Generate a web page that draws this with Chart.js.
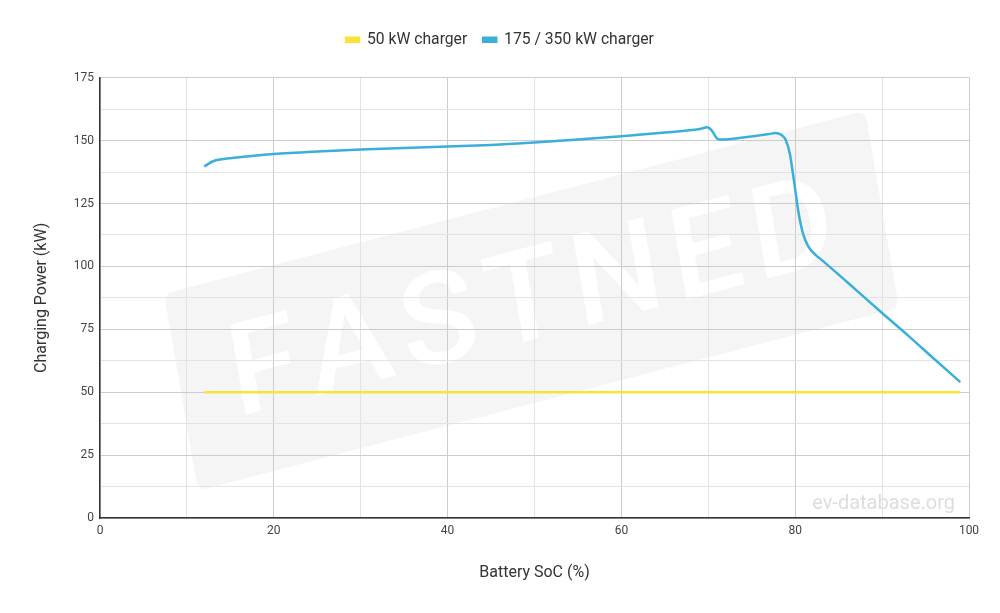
<!DOCTYPE html>
<html>
<head>
<meta charset="utf-8">
<script src="https://cdn.jsdelivr.net/npm/chart.js@4/dist/chart.umd.min.js"></script>
<style>
html,body{margin:0;padding:0;background:#fff;}
#wrap{width:1000px;height:613px;position:relative;}
</style>
</head>
<body>
<div id="wrap"><canvas id="c" width="1000" height="613"></canvas></div>
<script>
// ---- data ----
const seriesNames = ["50 kW charger", "175 / 350 kW charger"];
const soc50 = [12, 99];
const power50 = [50, 50];
const socFast = [12, 13, 14, 16, 18, 20, 25, 30, 35, 40, 45, 50, 55, 60, 65, 69, 69.9, 70.4, 71.1, 71.6, 74, 77, 77.7, 78.4, 78.9, 79.4, 79.9, 80.4, 80.9, 81.5, 82.4, 83, 86, 90, 93, 96, 99];
const powerFast = [139.7, 141.8, 142.6, 143.4, 144.1, 144.7, 145.7, 146.5, 147.1, 147.7, 148.3, 149.2, 150.4, 151.7, 153.2, 154.6, 155.3, 154.0, 150.6, 150.4, 151.2, 152.6, 153.0, 152.3, 150.3, 144.5, 133, 121, 113, 108, 104.4, 102.7, 93.7, 81.5, 72.5, 63.2, 54];
const xTitle = "Battery SoC (%)";
const yTitle = "Charging Power (kW)";
const watermarkText = "FASTNED";
const creditText = "ev-database.org";

const pts = (xs, ys) => xs.map((x, i) => ({x: x, y: ys[i]}));

const FONT = "Roboto, 'Noto Sans', sans-serif";

const legendSpace = {
  id: 'legendSpace',
  afterInit(chart) {
    const lg = chart.legend;
    if (lg && !lg._patched) {
      const orig = lg.fit;
      lg.fit = function () { orig.call(this); this.height += 20; };
      lg._patched = true;
    }
  }
};

const watermark = {
  id: 'watermark',
  beforeDraw(chart) {
    const ctx = chart.ctx;
    const ca = chart.chartArea;
    ctx.save();
    const ox = ca.left + 64, oy = ca.top + 216;
    const W = 724, H = 200;
    ctx.transform(701 / W, -183 / W, 34 / H, 197 / H, ox, oy);
    const r = 10;
    ctx.beginPath();
    ctx.moveTo(r, 0); ctx.lineTo(W - r, 0); ctx.quadraticCurveTo(W, 0, W, r);
    ctx.lineTo(W, H - r); ctx.quadraticCurveTo(W, H, W - r, H);
    ctx.lineTo(r, H); ctx.quadraticCurveTo(0, H, 0, H - r);
    ctx.lineTo(0, r); ctx.quadraticCurveTo(0, 0, r, 0);
    ctx.closePath();
    ctx.fillStyle = '#f5f5f5';
    ctx.fill();
    ctx.fillStyle = '#ffffff';
    ctx.font = "500 128px " + FONT;
    ctx.textBaseline = 'middle';
    const letters = watermarkText.split('');
    const widths = letters.map(l => ctx.measureText(l).width);
    const total = 622;
    const sumW = widths.reduce((a, b) => a + b, 0);
    const gap = (total - sumW) / (letters.length - 1);
    let x = (W - total) / 2;
    letters.forEach((l, i) => { ctx.fillText(l, x, H / 2 + 6); x += widths[i] + gap; });
    ctx.restore();

    ctx.save();
    ctx.font = "20px " + FONT;
    ctx.fillStyle = '#dddddd';
    ctx.textAlign = 'right';
    ctx.textBaseline = 'alphabetic';
    ctx.fillText(creditText, ca.right - 14, ca.bottom - 9);
    ctx.restore();
  }
};

new Chart(document.getElementById('c'), {
  type: 'line',
  data: {
    datasets: [
      {
        label: seriesNames[0],
        data: pts(soc50, power50),
        borderColor: '#fde13b',
        backgroundColor: '#fde13b',
        borderWidth: 2.5,
        pointRadius: 0,
        fill: false
      },
      {
        label: seriesNames[1],
        data: pts(socFast, powerFast),
        borderColor: '#3aafd9',
        backgroundColor: '#3aafd9',
        borderWidth: 2.5,
        pointRadius: 0,
        cubicInterpolationMode: 'monotone',
        fill: false
      }
    ]
  },
  options: {
    responsive: false,
    animation: false,
    devicePixelRatio: 1,
    layout: {padding: {left: 31, right: 31, top: 16, bottom: 0}},
    plugins: {
      legend: {
        position: 'top',
        labels: {
          boxWidth: 13,
          boxHeight: 4,
          padding: 16,
          color: '#333',
          font: {family: FONT, size: 15.7}
        }
      },
      tooltip: {enabled: false}
    },
    scales: {
      x: {
        type: 'linear',
        min: 0, max: 100,
        ticks: {
          stepSize: 10,
          padding: 6,
          color: '#444',
          font: {family: FONT, size: 12},
          maxRotation: 0,
          callback: v => (v % 20 === 0 ? String(v) : '')
        },
        grid: {
          drawTicks: false,
          color: ctx => (ctx.tick && ctx.tick.value % 20 === 0 ? '#cccccc' : '#e3e3e3'),
          lineWidth: 1
        },
        border: {display: true, color: '#333', width: 1.5},
        title: {
          display: true, text: xTitle, color: '#333',
          font: {family: FONT, size: 16},
          padding: {top: 0, bottom: 30}
        },
        afterFit: s => { s.height = 95; }
      },
      y: {
        type: 'linear',
        min: 0, max: 175,
        ticks: {
          stepSize: 12.5,
          padding: 6,
          color: '#444',
          font: {family: FONT, size: 12},
          callback: v => (v % 25 === 0 ? String(v) : '')
        },
        grid: {
          drawTicks: false,
          color: ctx => (ctx.tick && ctx.tick.value % 25 === 0 ? '#cccccc' : '#e3e3e3'),
          lineWidth: 1
        },
        border: {display: true, color: '#333', width: 1.5},
        title: {
          display: true, text: yTitle, color: '#333',
          font: {family: FONT, size: 16},
          padding: {top: 1, bottom: 0}
        },
        afterFit: s => { s.width = 69; }
      }
    }
  },
  plugins: [legendSpace, watermark]
});
</script>
</body>
</html>
